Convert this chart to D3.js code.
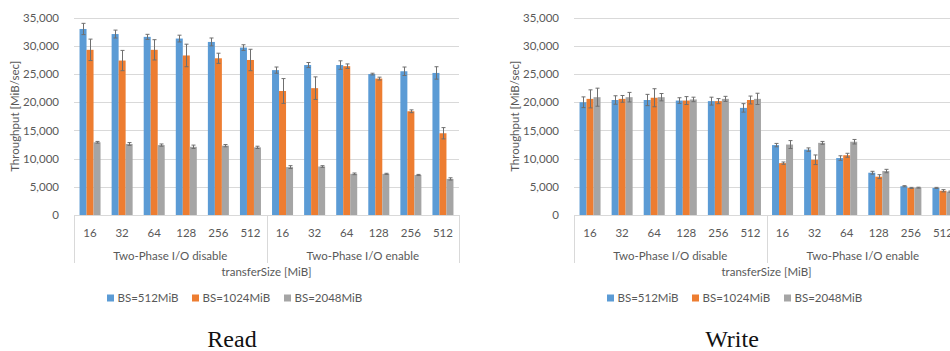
<!DOCTYPE html>
<html>
<head>
<meta charset="utf-8">
<script src="https://cdn.jsdelivr.net/npm/d3@7"></script>
<style>
  html, body { margin: 0; padding: 0; background: #fff; overflow: hidden; }
  svg { display: block; }
  .lbl { font-family: Lato, "Open Sans", sans-serif; font-size: 11.5px; fill: #595959; }
  .cap { font-family: "Liberation Serif", "DejaVu Serif", serif; font-size: 24px; fill: #111; }
</style>
</head>
<body>
<svg id="chart" width="950" height="351"></svg>
<script>
// transferSize categories, grouped by Two-Phase I/O mode
const sizes = ["16", "32", "64", "128", "256", "512"];
const groups = ["Two-Phase I/O disable", "Two-Phase I/O enable"];
const seriesNames = ["BS=512MiB", "BS=1024MiB", "BS=2048MiB"];
const seriesColors = ["#5B9BD5", "#ED7D31", "#A5A5A5"];
const yTicks = [0, 5000, 10000, 15000, 20000, 25000, 30000, 35000];

// Read throughput [MiB/sec]: 6 disable values then 6 enable values
const read512  = [33000, 32100, 31600, 31300, 30700, 29700, 25700, 26600, 26600, 25000, 25500, 25200];
const read1024 = [29300, 27400, 29300, 28300, 27800, 27500, 22000, 22500, 26400, 24200, 18400, 14500];
const read2048 = [12900, 12600, 12400, 12100, 12300, 12000,  8500,  8600,  7300,  7300,  7100,  6400];
const readErr512  = [1000, 700, 450, 600, 700, 500, 550, 450, 750, 150, 750, 1100];
const readErr1024 = [1900, 1800, 1800, 2000, 900, 1900, 2200, 2000, 400, 250, 250, 1000];
const readErr2048 = [150, 250, 200, 300, 200, 200, 250, 150, 150, 100, 100, 200];

// Write throughput [MiB/sec]
const write512  = [20000, 20400, 20400, 20300, 20200, 19000, 12400, 11600, 10100, 7500, 5100, 4800];
const write1024 = [20600, 20600, 20800, 20300, 20200, 20400,  9200,  9800, 10600, 6800, 4800, 4300];
const write2048 = [20900, 20900, 20900, 20500, 20600, 20600, 12500, 12800, 13000, 7800, 4850, 4150];
const writeErr512  = [950, 750, 1000, 500, 700, 750, 300, 300, 400, 250, 100, 100];
const writeErr1024 = [1600, 600, 1600, 700, 450, 700, 200, 850, 350, 350, 100, 200];
const writeErr2048 = [1600, 850, 650, 400, 450, 1000, 700, 250, 400, 300, 80, 100];

const svg = d3.select("#chart");

function drawPanel(offsetX, caption, vals, errs) {
  const g = svg.append("g").attr("transform", `translate(${offsetX},0)`);
  const left = 74, right = 459, top = 17.7, bottom = 215;

  const cats = d3.range(groups.length * sizes.length);
  const x0 = d3.scaleBand().domain(cats).range([left, right])
    .paddingInner(0.345).paddingOuter(0.1725);
  const x1 = d3.scaleBand().domain(d3.range(seriesNames.length))
    .range([0, x0.bandwidth()]);
  const y = d3.scaleLinear().domain([0, 35000]).range([bottom, top]);

  // horizontal gridlines
  g.append("g").selectAll("line").data(yTicks).join("line")
    .attr("x1", left).attr("x2", right)
    .attr("y1", d => Math.round(y(d)) + 0.5).attr("y2", d => Math.round(y(d)) + 0.5)
    .attr("stroke", "#d9d9d9").attr("stroke-width", 1);

  // y tick labels
  const yAxis = d3.axisLeft(y).tickValues(yTicks).tickFormat(d3.format(",")).tickSize(0).tickPadding(0);
  const ya = g.append("g").attr("transform", `translate(${left - 15},0)`).call(yAxis);
  ya.select(".domain").remove();
  ya.selectAll("text").attr("class", "lbl").attr("fill", null).attr("font-size", null).attr("font-family", null);

  // y title
  g.append("text").attr("class", "lbl")
    .attr("transform", `translate(19,${(top + bottom) / 2}) rotate(-90)`)
    .attr("text-anchor", "middle").text("Throughput [MiB/sec]");

  // bars
  vals.forEach((series, si) => {
    g.append("g").selectAll("rect").data(series).join("rect")
      .attr("x", (d, i) => x0(i) + x1(si))
      .attr("width", x1.bandwidth())
      .attr("y", d => y(d))
      .attr("height", d => y(0) - y(d))
      .attr("fill", seriesColors[si]);
  });

  // error bars
  vals.forEach((series, si) => {
    const eg = g.append("g").attr("stroke", "#6f6f6f").attr("stroke-width", 1);
    series.forEach((v, i) => {
      const cx = Math.round(x0(i) + x1(si) + x1.bandwidth() / 2) + 0.5;
      const e = errs[si][i];
      const y1 = y(v + e), y2 = y(v - e);
      eg.append("line").attr("x1", cx).attr("x2", cx).attr("y1", y1).attr("y2", y2);
      eg.append("line").attr("x1", cx - 2).attr("x2", cx + 2).attr("y1", y1).attr("y2", y1);
      eg.append("line").attr("x1", cx - 2).attr("x2", cx + 2).attr("y1", y2).attr("y2", y2);
    });
  });

  // category axis frame: outer edges and group separator
  const sepX = [left, (left + right) / 2, right];
  g.append("g").selectAll("line").data(sepX).join("line")
    .attr("x1", d => Math.round(d) + 0.5).attr("x2", d => Math.round(d) + 0.5)
    .attr("y1", bottom).attr("y2", 263)
    .attr("stroke", "#d9d9d9");

  // transferSize labels
  g.append("g").selectAll("text").data(cats).join("text")
    .attr("class", "lbl").attr("text-anchor", "middle")
    .attr("x", d => x0(d) + x0.bandwidth() / 2).attr("y", 236.5)
    .text(d => sizes[d % sizes.length]);

  // group labels
  g.append("g").selectAll("text").data(groups).join("text")
    .attr("class", "lbl").attr("text-anchor", "middle")
    .attr("x", (d, i) => (sepX[i] + sepX[i + 1]) / 2).attr("y", 260)
    .text(d => d);

  // x title
  g.append("text").attr("class", "lbl").attr("text-anchor", "middle")
    .attr("x", (left + right) / 2).attr("y", 276).text("transferSize [MiB]");

  // legend
  const legX = [107, 192, 284];
  const lg = g.append("g").selectAll("g").data(seriesNames).join("g")
    .attr("transform", (d, i) => `translate(${legX[i]},294.5)`);
  lg.append("rect").attr("width", 7).attr("height", 7).attr("fill", (d, i) => seriesColors[i]);
  lg.append("text").attr("class", "lbl").attr("x", 10.5).attr("y", 7.5).text(d => d);

  // caption
  g.append("text").attr("class", "cap").attr("text-anchor", "middle")
    .attr("x", 232).attr("y", 346.5).text(caption);
}

drawPanel(0, "Read", [read512, read1024, read2048], [readErr512, readErr1024, readErr2048]);
drawPanel(500, "Write", [write512, write1024, write2048], [writeErr512, writeErr1024, writeErr2048]);
</script>
</body>
</html>
